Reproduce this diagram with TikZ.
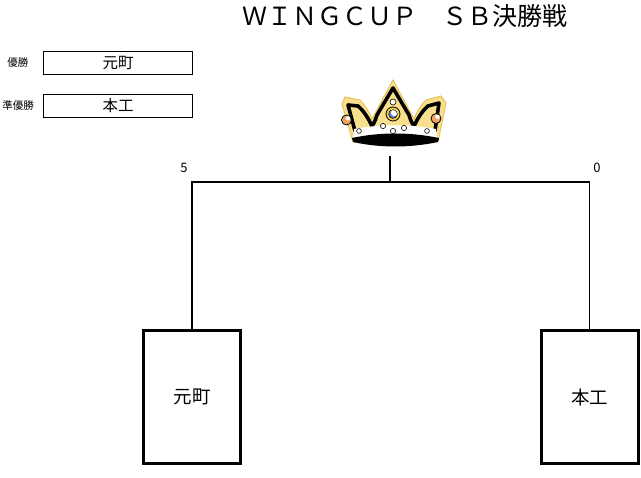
\documentclass[tikz,border=0pt]{standalone}
\usepackage{fontspec}
\newfontfamily\jp{Noto Sans CJK JP}
\definecolor{gold}{HTML}{F8DF8E}
\definecolor{goldrim}{HTML}{E9C25A}
\definecolor{jewelyel}{HTML}{F2D43A}
\definecolor{jewelblue}{HTML}{5B7BD6}
\definecolor{jewelorg}{HTML}{F2A462}
\tikzset{
  teambox/.style={draw, line width=3pt, minimum width=97pt, minimum height=133pt, inner sep=0pt, font=\jp\fontsize{18.5}{20}\selectfont},
  resbox/.style={draw, line width=1.2pt, minimum width=149pt, minimum height=23pt, inner sep=0pt, font=\jp\fontsize{15.5}{17}\selectfont},
  reslabel/.style={inner sep=0pt, font=\jp\fontsize{10.5}{12}\selectfont},
  score/.style={inner sep=0pt, font=\jp\fontsize{13}{14}\selectfont},
  bracket/.style={line width=1.5pt},
  pearl/.style={fill=white, draw=black, line width=0.6pt},
}
\begin{document}
\begin{tikzpicture}[x=1pt, y=-1pt]
\useasboundingbox (0,0) rectangle (641,478);
% title
\node[inner sep=0pt, font=\jp\fontsize{25}{28}\selectfont] (title) at (405,16) {ＷＩＮＧＣＵＰ　ＳＢ決勝戦};
% results
\node[reslabel] (l1) at (18,63) {優勝};
\node[resbox] (r1) at (118,63) {元町};
\node[reslabel] (l2) at (18,106) {準優勝};
\node[resbox] (r2) at (118,106) {本工};
% crown
\begin{scope}
  \fill[gold, draw=goldrim, line width=1pt]
    (353,142) -- (342,104) -- (345,97) -- (360,100)
    .. controls (366,106) and (370,114) .. (372,119)
    -- (393,80) -- (414,119)
    .. controls (416,114) and (420,106) .. (426,100)
    -- (441,96) -- (446,103) -- (438,142) -- cycle;
  \draw[line width=3.6pt, line join=round, line cap=round]
    (355,131) -- (348,105) -- (358,106)
    .. controls (365,112) and (369,120) .. (372,126)
    .. controls (375,122) and (376,118) .. (377,115)
    -- (393,88) -- (409,115)
    .. controls (410,118) and (411,122) .. (414,126)
    .. controls (417,120) and (421,112) .. (428,106)
    -- (439,103) -- (435,131);
  \fill[white] (354,129) .. controls (380,124) and (410,124) .. (436,129)
    -- (437,138) .. controls (410,133) and (380,133) .. (353,138) -- cycle;
  \fill[black] (352,138) .. controls (380,132) and (410,132) .. (439,138)
    -- (438,142) .. controls (410,148) and (380,148) .. (353,142) -- cycle;
  % center jewel
  \fill[jewelyel, draw=black, line width=0.8pt] (393,114) circle[radius=7];
  \fill[jewelblue] (393,114.5) circle[radius=4.2];
  \fill[white] (394.3,112.8) circle[radius=3.4];
  \draw[line width=0.5pt] (393,114) circle[radius=4.4];
  \draw[pearl] (393,102) circle[radius=3];
  % side jewels
  \fill[jewelorg, draw=black, line width=0.8pt] (346.5,120) circle[radius=5];
  \fill[white] (348,118.3) circle[radius=2.2];
  \fill[jewelorg, draw=black, line width=0.8pt] (436,118.5) circle[radius=5];
  \fill[white] (437.5,116.8) circle[radius=2.2];
  % pearls
  \draw[pearl] (383,126) circle[radius=2.6];
  \draw[pearl] (393,131) circle[radius=2.6];
  \draw[pearl] (404,128) circle[radius=2.6];
  \draw[pearl] (359,131) circle[radius=2.4];
  \draw[pearl] (427,131) circle[radius=2.4];
\end{scope}
% bracket
\coordinate (stemtop) at (390,156);
\coordinate (mid) at (390,182);
\node[teambox] (lbox) at (192,397) {元町};
\node[teambox] (rbox) at (589.5,397.5) {本工};
\draw[bracket] (lbox.north) |- (mid) -| (rbox.north);
\draw[bracket] (stemtop) -- (mid);
\node[score] (s1) at (184,168) {5};
\node[score] (s2) at (597,168) {0};
\end{tikzpicture}
\end{document}
